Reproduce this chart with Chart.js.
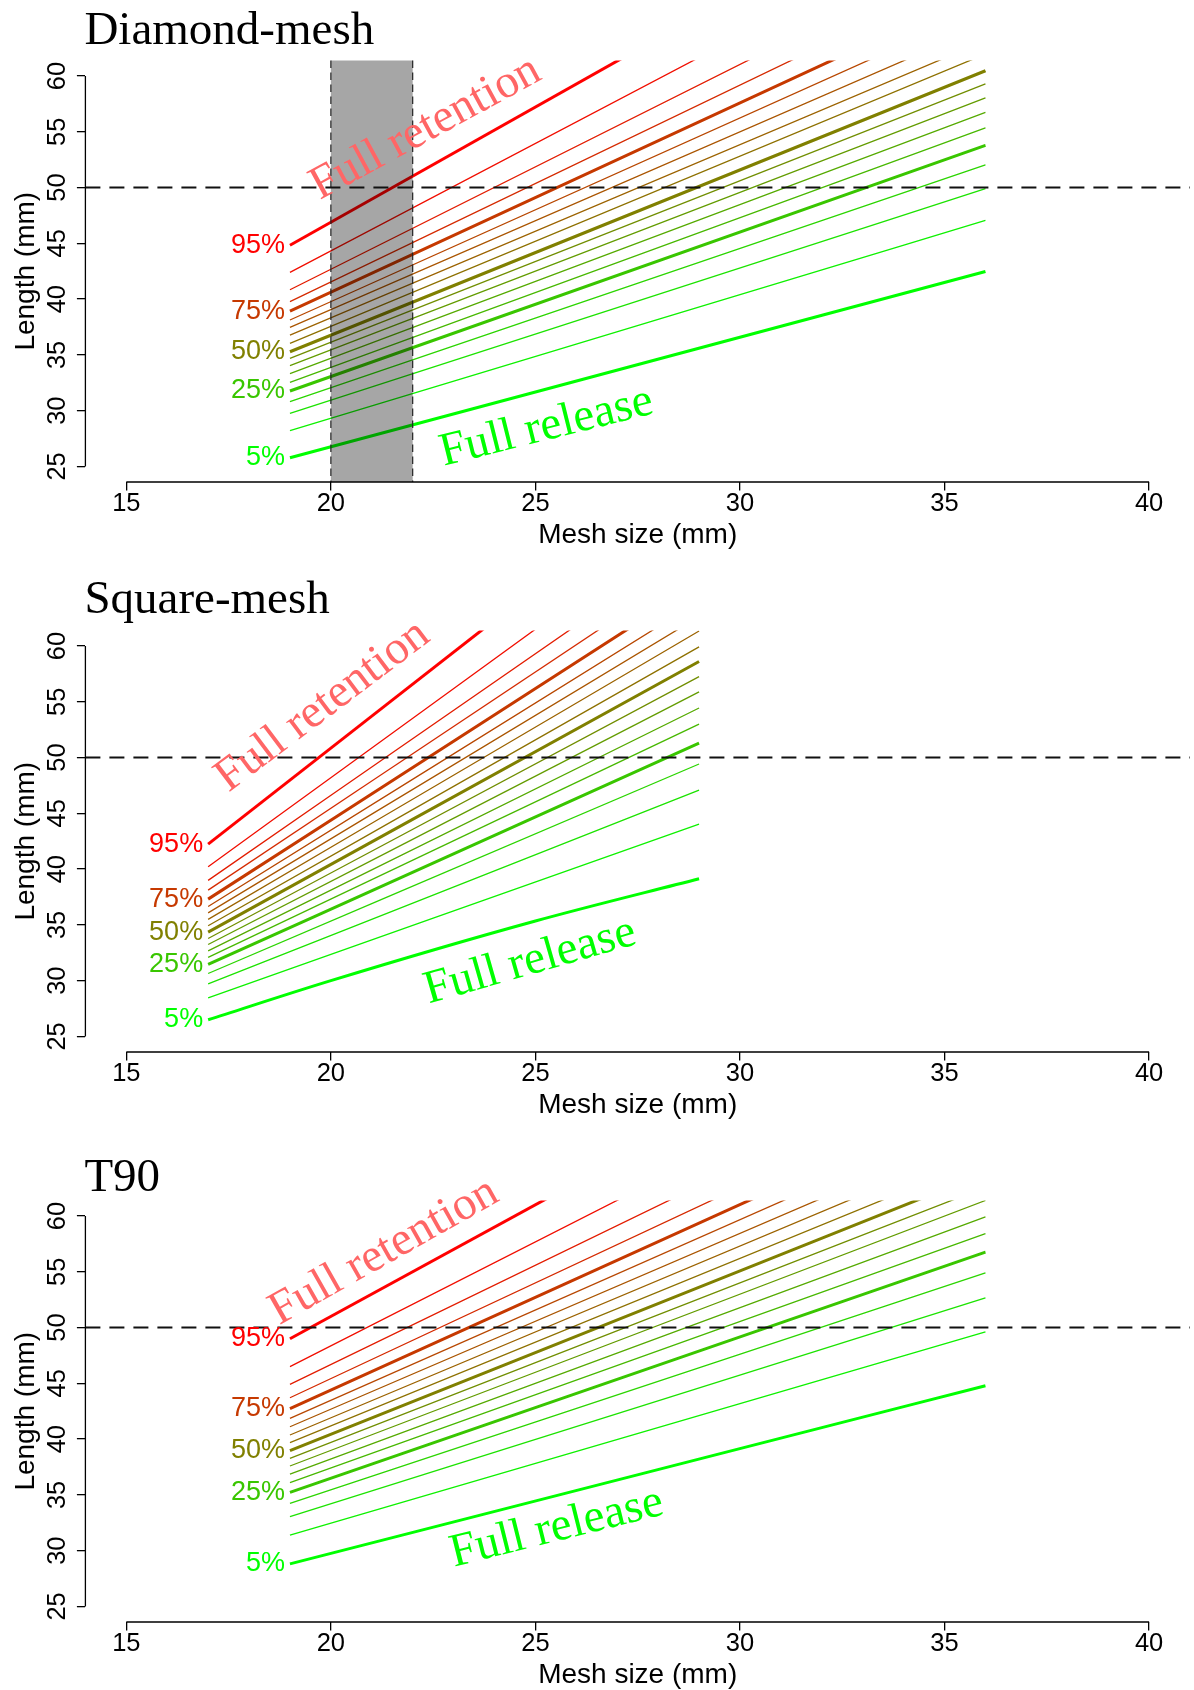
<!DOCTYPE html>
<html>
<head>
<meta charset="utf-8">
<script src="https://cdn.jsdelivr.net/npm/chart.js@4.4.1/dist/chart.umd.min.js"></script>
<style>
  html, body { margin: 0; padding: 0; background: #fff; overflow: hidden; }
  #page { position: relative; width: 1194px; height: 1690px; overflow: hidden; background: #fff; }
  #page canvas { position: absolute; left: 0; }
</style>
</head>
<body>
<div id="page">
  <canvas id="diamond" width="1194" height="570" style="top:0px"></canvas>
  <canvas id="square" width="1194" height="570" style="top:570px"></canvas>
  <canvas id="t90" width="1194" height="570" style="top:1140px"></canvas>
</div>
<script>
// Retention probabilities (%) of the selection curves, lowest to highest
const retentionLevels = [5, 10, 15, 20, 25, 30, 35, 40, 45, 50, 55, 60, 65, 70, 75, 80, 85, 90, 95];
const labelledLevels = [5, 25, 50, 75, 95];

const meshTicks = [15, 20, 25, 30, 35, 40];
const lengthTicks = [25, 30, 35, 40, 45, 50, 55, 60];

// Diamond-mesh: length (mm) retained with given probability, at each mesh size
const diamondMesh = [19, 36];
const diamondLengths = [
  [25.78, 42.48],
  [28.20, 47.06],
  [29.76, 49.91],
  [30.80, 52.03],
  [31.76, 53.79],
  [32.54, 55.36],
  [33.31, 56.74],
  [34.03, 58.05],
  [34.69, 59.30],
  [35.28, 60.48],
  [36.03, 61.98],
  [36.78, 63.17],
  [37.47, 64.57],
  [38.13, 66.13],
  [38.93, 67.78],
  [39.77, 69.79],
  [40.84, 72.07],
  [42.40, 75.16],
  [44.83, 79.95]
];

// Square-mesh (the 5% curve bends, so it has extra readings)
const squareMesh = [17, 20, 25, 29];
const squareLengths = [
  [26.49, 30.00, 35.35, 39.14],
  [28.46, null, null, 44.04],
  [29.71, null, null, 47.09],
  [30.64, null, null, 49.43],
  [31.45, null, null, 51.31],
  [32.08, null, null, 53.01],
  [32.67, null, null, 54.45],
  [33.24, null, null, 55.89],
  [33.78, null, null, 57.27],
  [34.35, null, null, 58.62],
  [34.92, null, null, 59.93],
  [35.49, null, null, 61.35],
  [36.08, null, null, 62.64],
  [36.65, null, null, 64.02],
  [37.31, null, null, 65.64],
  [38.12, null, null, 67.46],
  [38.99, null, null, 69.48],
  [40.21, null, null, 72.17],
  [42.24, null, null, 76.67]
];

// T90
const t90Mesh = [19, 36];
const t90Lengths = [
  [28.81, 44.79],
  [31.40, 49.62],
  [33.04, 52.66],
  [34.24, 54.91],
  [35.23, 56.77],
  [36.09, 58.43],
  [36.87, 59.94],
  [37.59, 61.40],
  [38.28, 62.59],
  [38.96, 63.88],
  [39.68, 65.22],
  [40.37, 66.56],
  [41.11, 67.91],
  [41.86, 69.40],
  [42.73, 71.02],
  [43.71, 72.90],
  [44.91, 75.18],
  [46.50, 78.20],
  [49.00, 83.05]
];

// Reference length and the shaded legal mesh band (diamond panel)
const referenceLength = 50;
const diamondBand = [20, 22];

// Placement of the rotated "Full retention" / "Full release" notes: [mesh, length, angle deg]
const notePlacement = {
  diamond: { retention: [22.32, 55.3, 28.5], release: [25.27, 28.5, 14.0] },
  square:  { retention: [19.8, 54.6, 37.0], release: [24.87, 31.7, 16.0] },
  t90:     { retention: [21.3, 56.8, 29.5], release: [25.52, 32.0, 14.0] }
};

const SANS = '"Liberation Sans", Arial, Helvetica, sans-serif';
const SERIF = '"Liberation Serif", "Times New Roman", Times, serif';

// green -> red ramp across the retention levels
function levelColour(p) {
  const t = (p - 5) / 90;
  return 'rgb(' + Math.round(255 * t) + ',' + Math.round(255 * (1 - t)) + ',0)';
}

const panelDecor = {
  id: 'panelDecor',
  afterDatasetsDraw(chart, args, opts) {
    const ctx = chart.ctx;
    const area = chart.chartArea;
    const xs = chart.scales.x, ys = chart.scales.y;
    ctx.save();

    // shaded mesh band with dashed edges
    if (opts.band) {
      const x0 = xs.getPixelForValue(opts.band[0]);
      const x1 = xs.getPixelForValue(opts.band[1]);
      ctx.fillStyle = 'rgba(0,0,0,0.35)';
      ctx.fillRect(x0, area.top, x1 - x0, area.bottom - area.top);
      ctx.strokeStyle = '#222';
      ctx.lineWidth = 1.2;
      ctx.setLineDash([7.5, 4.5]);
      [x0, x1].forEach(x => {
        ctx.beginPath();
        ctx.moveTo(x, area.top);
        ctx.lineTo(x, area.bottom);
        ctx.stroke();
      });
    }

    // reference length
    const yRef = ys.getPixelForValue(referenceLength);
    ctx.strokeStyle = '#111';
    ctx.lineWidth = 2;
    ctx.setLineDash([15, 9]);
    ctx.beginPath();
    ctx.moveTo(area.left, yRef);
    ctx.lineTo(area.right, yRef);
    ctx.stroke();
    ctx.setLineDash([]);

    // axis lines spanning first to last tick
    ctx.strokeStyle = '#000';
    ctx.lineWidth = 1.3;
    ctx.beginPath();
    ctx.moveTo(area.left, ys.getPixelForValue(lengthTicks[0]));
    ctx.lineTo(area.left, ys.getPixelForValue(lengthTicks[lengthTicks.length - 1]));
    ctx.moveTo(xs.getPixelForValue(meshTicks[0]), area.bottom);
    ctx.lineTo(xs.getPixelForValue(meshTicks[meshTicks.length - 1]), area.bottom);
    ctx.stroke();

    // percentage labels at the start of the labelled curves
    ctx.font = '27px ' + SANS;
    ctx.textAlign = 'right';
    ctx.textBaseline = 'middle';
    labelledLevels.forEach(p => {
      const i = retentionLevels.indexOf(p);
      const x = xs.getPixelForValue(opts.mesh[0]) - 5;
      const y = ys.getPixelForValue(opts.lengths[i][0]);
      ctx.fillStyle = levelColour(p);
      ctx.fillText(p + '%', x, y);
    });

    // rotated notes
    const notes = [
      ['Full retention', '#FF6666', opts.notes.retention],
      ['Full release', '#00FF00', opts.notes.release]
    ];
    ctx.font = '47px ' + SERIF;
    ctx.textAlign = 'center';
    ctx.textBaseline = 'middle';
    notes.forEach(([text, colour, pos]) => {
      ctx.save();
      ctx.translate(xs.getPixelForValue(pos[0]), ys.getPixelForValue(pos[1]));
      ctx.rotate(-pos[2] * Math.PI / 180);
      ctx.fillStyle = colour;
      ctx.fillText(text, 0, 0);
      ctx.restore();
    });

    // panel title
    ctx.font = '47px ' + SERIF;
    ctx.textAlign = 'left';
    ctx.textBaseline = 'alphabetic';
    ctx.fillStyle = '#000';
    ctx.fillText(opts.title, area.left - 1, opts.titleBaseline);

    ctx.restore();
  }
};

function buildDatasets(mesh, lengths) {
  return retentionLevels.map((p, i) => {
    const thick = labelledLevels.indexOf(p) >= 0;
    const points = [];
    mesh.forEach((m, j) => {
      if (lengths[i][j] !== null) points.push({ x: m, y: lengths[i][j] });
    });
    return {
      label: p + '%',
      data: points,
      borderColor: levelColour(p),
      borderWidth: thick ? 3 : 1.3,
      pointRadius: 0,
      fill: false,
      cubicInterpolationMode: 'monotone',
      clip: 0
    };
  });
}

function makePanel(id, title, mesh, lengths, band, titleBaseline) {
  new Chart(document.getElementById(id), {
    type: 'line',
    data: { datasets: buildDatasets(mesh, lengths) },
    options: {
      responsive: false,
      animation: false,
      devicePixelRatio: 1,
      layout: { padding: { left: 0, right: 4, top: 60.5, bottom: 0 } },
      plugins: {
        legend: { display: false },
        tooltip: { enabled: false },
        panelDecor: {
          title: title,
          titleBaseline: titleBaseline,
          band: band,
          mesh: mesh,
          lengths: lengths,
          notes: notePlacement[id]
        }
      },
      scales: {
        x: {
          type: 'linear',
          min: 14,
          max: 41,
          afterBuildTicks: s => { s.ticks = meshTicks.map(v => ({ value: v })); },
          afterFit: s => { s.height = 88; },
          border: { display: false },
          grid: { display: true, drawOnChartArea: false, drawTicks: true, tickLength: 8.5, color: '#000', lineWidth: 1.3 },
          ticks: {
            color: '#000', autoSkip: false, maxRotation: 0, minRotation: 0, padding: -2,
            font: { family: SANS, size: 25.5 },
            callback: v => String(v)
          },
          title: {
            display: true, text: 'Mesh size (mm)', color: '#000',
            font: { family: SANS, size: 28 },
            padding: { top: 0, bottom: 17.5 }
          }
        },
        y: {
          type: 'linear',
          position: 'left',
          min: 23.6,
          max: 61.4,
          afterBuildTicks: s => { s.ticks = lengthTicks.map(v => ({ value: v })); },
          afterFit: s => { s.width = 85.4; },
          border: { display: false },
          grid: { display: true, drawOnChartArea: false, drawTicks: true, tickLength: 8.5, color: '#000', lineWidth: 1.3 },
          ticks: {
            color: '#000', autoSkip: false, minRotation: 90, maxRotation: 90, crossAlign: 'center', padding: 5,
            font: { family: SANS, size: 25.5 },
            callback: v => String(v)
          },
          title: {
            display: true, text: 'Length (mm)', color: '#000',
            font: { family: SANS, size: 28 },
            padding: { top: 9, bottom: 0 }
          }
        }
      }
    },
    plugins: [panelDecor]
  });
}

makePanel('diamond', 'Diamond-mesh', diamondMesh, diamondLengths, diamondBand, 43.5);
makePanel('square', 'Square-mesh', squareMesh, squareLengths, null, 42.5);
makePanel('t90', 'T90', t90Mesh, t90Lengths, null, 50.6);
</script>
</body>
</html>
